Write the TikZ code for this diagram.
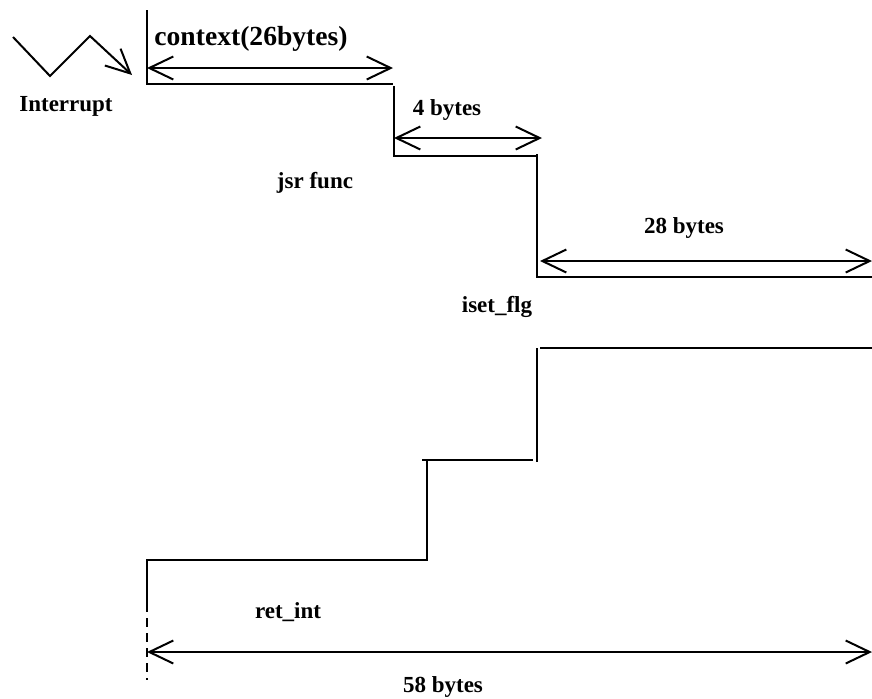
\documentclass[tikz,border=0pt]{standalone}
\usepackage{fontspec}
\setmainfont{Liberation Serif}
\usepackage{tikz}
\usetikzlibrary{arrows.meta}

\begin{document}
\begin{tikzpicture}[x=.5pt,y=-.5pt,line width=1pt,
  >={Straight Barb[length=12pt,width=11.5pt]},
  lbl/.style={font=\bfseries\fontsize{11.5}{13}\selectfont},
  span/.style={<->}]
\useasboundingbox (0,0) rectangle (872,698);
% stack profile going down
\coordinate (s0) at (147,10);
\coordinate (s1) at (147,84);
\coordinate (s2) at (393,84);
\coordinate (s3) at (394,86);
\coordinate (s4) at (394,156);
\coordinate (s5) at (538,156);
\coordinate (s6) at (537,154);
\coordinate (s7) at (537,277);
\coordinate (s8) at (872,277);
% stack profile going back up
\coordinate (r0) at (872,348);
\coordinate (r1) at (540,348);
\coordinate (r2) at (537,348);
\coordinate (r3) at (537,462);
\coordinate (r4) at (533,460);
\coordinate (r5) at (422,460);
\coordinate (r6) at (427,460);
\coordinate (r7) at (427,560);
\coordinate (r8) at (147,560);
\coordinate (r9) at (147,603);
\coordinate (r10) at (147,680);
% zigzag
\coordinate (z0) at (13,37);
\coordinate (z1) at (50,76);
\coordinate (z2) at (90,36);
\coordinate (z3) at (132,75);
\draw[->] (z0) -- (z1) -- (z2) -- (z3);
\draw (s0) -- (s1) -- (s2);
\draw (s3) -- (s4) -- (s5);
\draw (s6) -- (s7) -- (s8);
\draw (r0) -- (r1);
\draw (r2) -- (r3);
\draw (r4) -- (r5);
\draw (r6) -- (r7) -- (r8) -- (r9);
\draw[dashed,dash pattern=on 4.5pt off 3pt] (r9) -- (r10);
% sizes
\coordinate (a1l) at (147,68);
\coordinate (a1r) at (393,68);
\coordinate (a2l) at (394,138);
\coordinate (a2r) at (542,138);
\coordinate (a3l) at (540,261);
\coordinate (a3r) at (872,261);
\coordinate (a4l) at (147,652);
\coordinate (a4r) at (872,652);
\draw[span] (a1l) -- (a1r);
\draw[span] (a2l) -- (a2r);
\draw[span] (a3l) -- (a3r);
\draw[span] (a4l) -- (a4r);
\node[font=\bfseries\fontsize{13.8}{15}\selectfont] (ctx) at (251,39) {context(26bytes)};
\node[lbl] (intr) at (66,106) {Interrupt};
\node[lbl] (four) at (447,110) {4 bytes};
\node[lbl] (jsr) at (315,183) {jsr func};
\node[lbl] (twe) at (684,228) {28 bytes};
\node[lbl] (iset) at (497,307) {iset\_flg};
\node[lbl] (ret) at (288,612) {ret\_int};
\node[lbl] (fif) at (443,687) {58 bytes};
\end{tikzpicture}
\end{document}
